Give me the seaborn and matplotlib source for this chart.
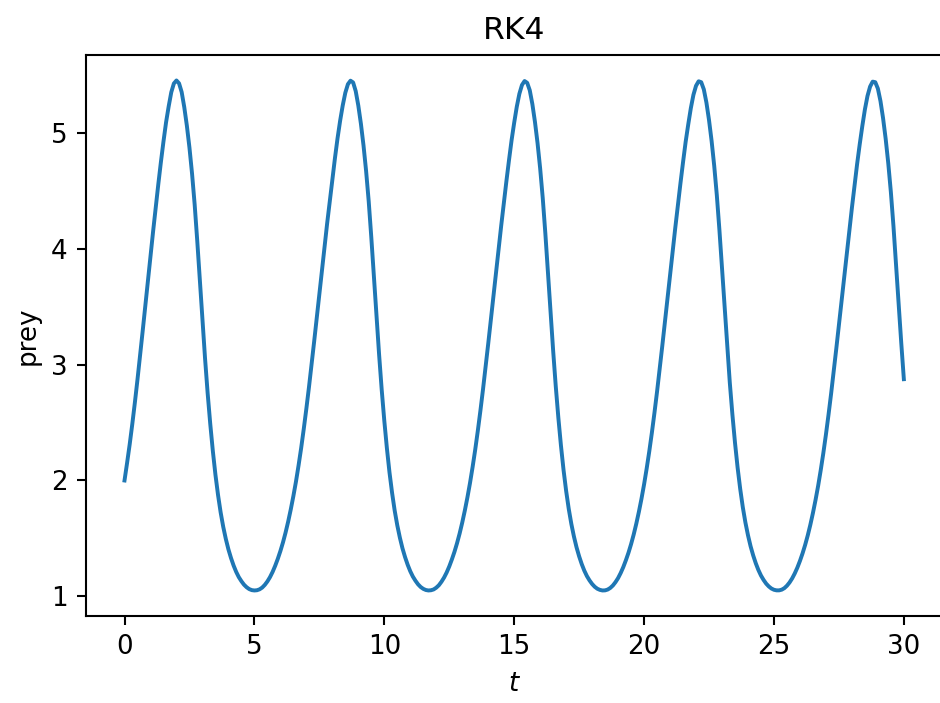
import numpy as np
import matplotlib
matplotlib.use("Agg")
import matplotlib.pyplot as plt
import seaborn as sns
import pandas as pd

# time grid, one value every 0.1
t = np.linspace(0, 30, 301)

# prey values, one list per stretch of 5 time units
prey_0_5 = [2.00, 2.153, 2.313, 2.488, 2.675, 2.873, 3.08, 3.292, 3.507, 3.722,
            3.937, 4.15, 4.354, 4.557, 4.749, 4.928, 5.094, 5.231, 5.353, 5.429,
            5.455, 5.43, 5.355, 5.225, 5.065, 4.875, 4.65, 4.385, 4.07, 3.73,
            3.385, 3.055, 2.755, 2.49, 2.255, 2.05, 1.875, 1.725, 1.60, 1.495,
            1.405, 1.33, 1.265, 1.21, 1.165, 1.13, 1.10, 1.078, 1.062, 1.053]
prey_5_10 = [1.05, 1.052, 1.06, 1.075, 1.098, 1.128, 1.165, 1.21, 1.263, 1.323,
             1.39, 1.465, 1.55, 1.645, 1.75, 1.865, 1.99, 2.13, 2.28, 2.445,
             2.62, 2.805, 3.00, 3.20, 3.405, 3.61, 3.815, 4.02, 4.22, 4.41,
             4.60, 4.783, 4.955, 5.107, 5.239, 5.349, 5.423, 5.453, 5.438, 5.363,
             5.238, 5.081, 4.894, 4.673, 4.412, 4.10, 3.764, 3.42, 3.088, 2.785]
prey_10_15 = [2.517, 2.279, 2.07, 1.893, 1.74, 1.613, 1.506, 1.414, 1.338, 1.272,
              1.216, 1.17, 1.134, 1.103, 1.08, 1.064, 1.054, 1.05, 1.052, 1.059,
              1.074, 1.095, 1.125, 1.161, 1.205, 1.257, 1.317, 1.383, 1.458, 1.542,
              1.636, 1.74, 1.854, 1.979, 2.117, 2.266, 2.429, 2.603, 2.787, 2.981,
              3.18, 3.384, 3.589, 3.794, 3.999, 4.20, 4.392, 4.584, 4.766, 4.939]
prey_15_20 = [5.09, 5.228, 5.34, 5.416, 5.45, 5.435, 5.37, 5.251, 5.097, 4.913,
              4.695, 4.438, 4.133, 3.798, 3.454, 3.121, 2.815, 2.543, 2.302, 2.091,
              1.91, 1.755, 1.625, 1.516, 1.423, 1.345, 1.278, 1.221, 1.174, 1.137,
              1.106, 1.082, 1.065, 1.055, 1.05, 1.051, 1.058, 1.072, 1.093, 1.122,
              1.157, 1.201, 1.252, 1.311, 1.376, 1.45, 1.533, 1.626, 1.729, 1.842]
prey_20_25 = [1.966, 2.103, 2.251, 2.412, 2.585, 2.768, 2.961, 3.16, 3.364, 3.569,
              3.774, 3.979, 4.18, 4.373, 4.566, 4.749, 4.924, 5.075, 5.216, 5.331,
              5.409, 5.448, 5.44, 5.378, 5.264, 5.113, 4.932, 4.718, 4.465, 4.165,
              3.832, 3.489, 3.154, 2.845, 2.57, 2.326, 2.112, 1.928, 1.77, 1.638,
              1.527, 1.432, 1.353, 1.285, 1.227, 1.179, 1.141, 1.109, 1.085, 1.067]
prey_25_30 = [1.056, 1.051, 1.051, 1.057, 1.070, 1.091, 1.119, 1.154, 1.197, 1.247,
              1.305, 1.37, 1.443, 1.525, 1.617, 1.719, 1.831, 1.953, 2.089, 2.236,
              2.396, 2.568, 2.75, 2.942, 3.14, 3.343, 3.548, 3.753, 3.958, 4.16,
              4.354, 4.547, 4.732, 4.902, 5.06, 5.204, 5.321, 5.402, 5.445, 5.44,
              5.385, 5.277, 5.129, 4.951, 4.74, 4.491, 4.197, 3.866, 3.524, 3.188,
              2.875]

prey = prey_0_5 + prey_5_10 + prey_10_15 + prey_15_20 + prey_20_25 + prey_25_30
df = pd.DataFrame({'t': t, 'prey': prey})

fig = plt.figure(figsize=(5.0, 703 / 188), dpi=188)
ax = fig.add_axes([0.091, 0.1238, 0.912, 0.798])

sns.lineplot(data=df, x='t', y='prey', ax=ax)

ax.set_title('RK4')
ax.set_xlabel('$t$')
ax.set_ylabel('prey')
ax.set_xticks([0, 5, 10, 15, 20, 25, 30])
ax.set_yticks([1, 2, 3, 4, 5])

fig.savefig('out.png', dpi=188)
